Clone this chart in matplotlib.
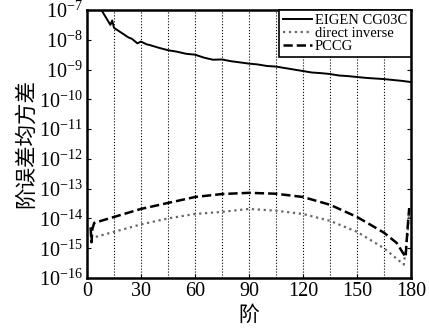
import numpy as np
import matplotlib.pyplot as plt

# degree-error RMS (log10 values)
eigen_deg = [2, 5, 8, 10, 12, 13, 14, 15, 18, 20, 23, 25, 28, 30, 33, 35, 40, 45, 50, 55, 60,
             65, 70, 75, 80, 85, 90, 95, 100, 105, 110, 115, 120, 125, 130, 135,
             140, 145, 150, 155, 160, 165, 170, 175, 180]
eigen_log = [-6.0, -6.6, -7.0, -7.2, -7.4, -7.5, -7.35, -7.6, -7.72, -7.8, -7.92, -7.97,
             -8.12, -8.06, -8.15, -8.18, -8.27, -8.35, -8.4, -8.47, -8.5, -8.6, -8.67,
             -8.66, -8.72, -8.76, -8.8, -8.83, -8.88, -8.9, -8.95, -9.0, -9.05, -9.1,
             -9.12, -9.15, -9.2, -9.22, -9.25, -9.28, -9.3, -9.32, -9.35, -9.38, -9.42]

pccg_deg = [2, 2.5, 3, 4, 15, 30, 45, 60, 75, 90, 105, 120, 135, 150, 160, 165, 172, 177, 178, 179]
pccg_log = [-14.3, -14.8, -14.35, -14.15, -13.95, -13.68, -13.48, -13.28, -13.18, -13.14,
            -13.17, -13.28, -13.54, -13.95, -14.3, -14.48, -14.82, -15.3, -14.4, -13.65]

inv_deg = [2, 3, 15, 30, 45, 60, 75, 90, 105, 120, 135, 150, 165, 176, 178, 179]
inv_log = [-14.6, -14.65, -14.45, -14.2, -14.0, -13.85, -13.78, -13.68, -13.74, -13.85,
           -14.08, -14.45, -15.0, -15.55, -14.6, -13.8]

plt.rcParams['font.family'] = ['Liberation Serif', 'Noto Sans CJK SC']
plt.rcParams['mathtext.fontset'] = 'stix'

fig = plt.figure(figsize=(4.29, 3.32), dpi=100)
ax = fig.add_axes([87 / 429, 1 - 278 / 332, (411 - 87) / 429, (278 - 10) / 332])

for v in range(15, 180, 15):
    ax.axvline(v, color='black', ls=':', lw=0.8, zorder=1)

ax.plot(eigen_deg, 10 ** np.array(eigen_log), color='black', lw=1.4, label='EIGEN CG03C')
ax.plot(inv_deg, 10 ** np.array(inv_log), color='#666666', ls=':', lw=1.6, label='direct inverse')
ax.plot(pccg_deg, 10 ** np.array(pccg_log), color='black', ls='--', lw=1.8, label='PCCG')

ax.set_yscale('log')
ax.set_xlim(0, 180)
ax.set_ylim(1e-16, 1e-7)
ax.set_yticks([10.0 ** e for e in range(-16, -6)])
ax.minorticks_off()
ax.set_xticks(range(0, 181, 30))
ax.tick_params(direction='in', labelsize=14.5, length=3, right=True, pad=3)
for s in ax.spines.values():
    s.set_linewidth(1.8)

ax.set_xlabel('阶', fontsize=15, family=['Noto Sans CJK SC'], labelpad=2)
ax.set_ylabel('阶误差均方差', fontsize=15.5, family=['Noto Sans CJK SC'], labelpad=1)

leg = ax.legend(loc='upper right', fontsize=10.5, handlelength=2.0, handletextpad=0.2,
                labelspacing=0.0, borderpad=0.25, borderaxespad=0, fancybox=False,
                framealpha=1)
leg.get_frame().set_edgecolor('black')
leg.get_frame().set_linewidth(1.2)

fig.savefig('out.png', dpi=100)
